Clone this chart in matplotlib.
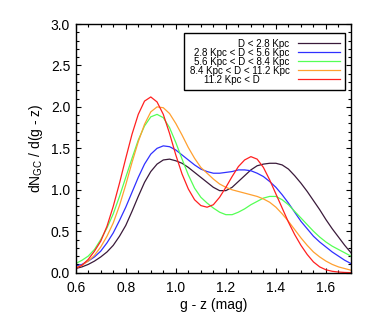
import numpy as np
import matplotlib
matplotlib.use("Agg")
import matplotlib.pyplot as plt
from matplotlib.ticker import MultipleLocator

plt.rcParams['font.family'] = ['Liberation Sans', 'DejaVu Sans']

# colour grid (g - z) sampled every 0.025 mag
gz = [0.600, 0.625, 0.650, 0.675, 0.700, 0.725, 0.750, 0.775, 0.800, 0.825,
      0.850, 0.875, 0.900, 0.925, 0.950, 0.975, 1.000, 1.025, 1.050, 1.075,
      1.100, 1.125, 1.150, 1.175, 1.200, 1.225, 1.250, 1.275, 1.300, 1.325,
      1.350, 1.375, 1.400, 1.425, 1.450, 1.475, 1.500, 1.525, 1.550, 1.575,
      1.600, 1.625, 1.650, 1.675, 1.700]

# dN/d(g-z), one list per distance bin
d_lt_28 = [0.05, 0.07, 0.10, 0.14, 0.19, 0.25, 0.33, 0.44, 0.57, 0.74,
           0.92, 1.09, 1.22, 1.31, 1.36, 1.37, 1.35, 1.32, 1.27, 1.21,
           1.15, 1.09, 1.03, 0.99, 0.99, 1.03, 1.10, 1.17, 1.24, 1.29,
           1.31, 1.32, 1.32, 1.30, 1.25, 1.17, 1.08, 0.98, 0.87, 0.76,
           0.64, 0.53, 0.43, 0.33, 0.24]
d_28_56 = [0.08, 0.10, 0.14, 0.19, 0.26, 0.36, 0.48, 0.63, 0.79, 0.97,
           1.15, 1.31, 1.43, 1.50, 1.53, 1.52, 1.48, 1.42, 1.36, 1.30,
           1.25, 1.22, 1.20, 1.20, 1.21, 1.22, 1.24, 1.24, 1.23, 1.20,
           1.16, 1.10, 1.03, 0.94, 0.84, 0.73, 0.62, 0.53, 0.44, 0.37,
           0.31, 0.25, 0.20, 0.15, 0.11]
d_56_84 = [0.11, 0.15, 0.20, 0.28, 0.40, 0.54, 0.71, 0.92, 1.15, 1.38,
           1.60, 1.77, 1.88, 1.91, 1.87, 1.75, 1.57, 1.37, 1.18, 1.02,
           0.91, 0.84, 0.78, 0.73, 0.70, 0.70, 0.73, 0.77, 0.82, 0.86,
           0.90, 0.92, 0.92, 0.88, 0.82, 0.74, 0.66, 0.58, 0.50, 0.43,
           0.37, 0.32, 0.28, 0.24, 0.20]
d_84_112 = [0.06, 0.09, 0.14, 0.21, 0.31, 0.44, 0.60, 0.81, 1.06, 1.33,
            1.58, 1.79, 1.94, 2.00, 1.99, 1.92, 1.80, 1.66, 1.51, 1.38,
            1.27, 1.20, 1.13, 1.07, 1.03, 1.00, 0.98, 0.96, 0.94, 0.92,
            0.89, 0.85, 0.79, 0.71, 0.62, 0.52, 0.42, 0.33, 0.25, 0.19,
            0.14, 0.10, 0.07, 0.05, 0.03]
d_gt_112 = [0.05, 0.09, 0.16, 0.26, 0.38, 0.56, 0.80, 1.08, 1.38, 1.67,
            1.91, 2.07, 2.12, 2.06, 1.91, 1.68, 1.42, 1.19, 1.01, 0.88,
            0.81, 0.79, 0.82, 0.91, 1.03, 1.16, 1.28, 1.36, 1.40, 1.37,
            1.27, 1.12, 0.95, 0.78, 0.61, 0.46, 0.33, 0.22, 0.13, 0.07,
            0.035, 0.017, 0.008, 0.003, 0.001]

labels = ["D < 2.8 Kpc",
          "2.8 Kpc < D < 5.6 Kpc",
          "5.6 Kpc < D < 8.4 Kpc",
          "8.4 Kpc < D < 11.2 Kpc",
          "11.2 Kpc < D           "]
colors = ["#3a1a3a", "#3030ff", "#55ff55", "#ffa030", "#ff2020"]

fig = plt.figure(figsize=(3.74, 3.2), dpi=100)
ax = fig.add_axes([0.2024, 0.1478, 0.7361, 0.7772])

for ys, lab, c in zip([d_lt_28, d_28_56, d_56_84, d_84_112, d_gt_112], labels, colors):
    ax.plot(gz, ys, color=c, lw=0.9, label=lab)

ax.set_xlim(0.6, 1.7)
ax.set_ylim(0.0, 3.0)
ax.xaxis.set_major_locator(MultipleLocator(0.2))
ax.xaxis.set_minor_locator(MultipleLocator(0.05))
ax.yaxis.set_major_locator(MultipleLocator(0.5))
ax.yaxis.set_minor_locator(MultipleLocator(0.1))
ax.tick_params(which='both', direction='in', top=True, right=True, width=0.8)
ax.tick_params(which='major', length=3.8, labelsize=10)
ax.tick_params(which='minor', length=2.0)
ax.tick_params(axis='x', pad=6)
ax.tick_params(axis='y', pad=4)
for s in ax.spines.values():
    s.set_linewidth(1.0)

ax.set_xlabel("g - z (mag)", fontsize=10, labelpad=2)
ax.set_ylabel(r"dN$_{\mathregular{GC}}$ / d(g - z)", fontsize=10, labelpad=4)

leg = ax.legend(loc='upper right', bbox_to_anchor=(0.978, 0.963), borderaxespad=0,
                markerfirst=False, fontsize=7, labelspacing=-0.1,
                handlelength=4.3, handletextpad=0.85, borderpad=0.55,
                fancybox=False, framealpha=1, edgecolor='black')
leg.get_frame().set_linewidth(1.0)

fig.savefig("out.png", dpi=100)
